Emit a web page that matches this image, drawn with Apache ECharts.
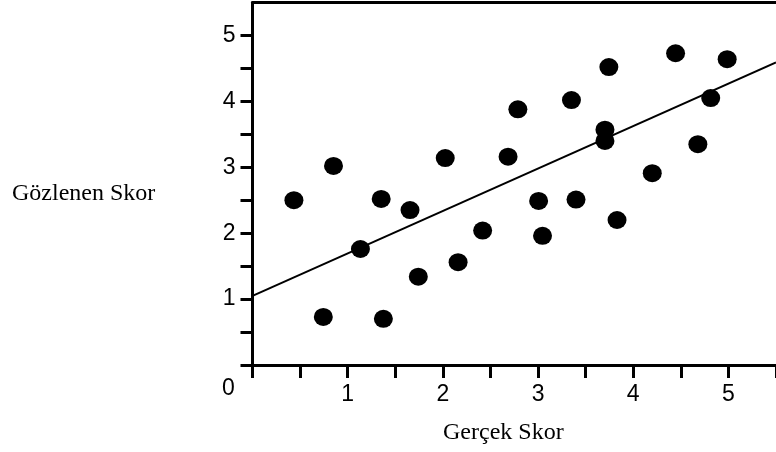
<!DOCTYPE html>
<html>
<head>
<meta charset="utf-8">
<script src="https://cdn.jsdelivr.net/npm/echarts@6/dist/echarts.min.js"></script>
<style>
  html, body { margin: 0; padding: 0; background: #fff; }
  #chart { width: 776px; height: 452px; }
</style>
</head>
<body>
<div id="chart"></div>
<script>
// Observed vs. true scores
const gercekSkor = [0.435, 0.744, 0.851, 1.134, 1.352, 1.375, 1.655, 1.742, 2.025, 2.16, 2.418, 2.685, 2.788,
                    3.006, 3.047, 3.351, 3.399, 3.703, 3.703, 3.744, 3.830, 4.20, 4.445, 4.679, 4.814, 4.987];
const gozlenenSkor = [2.50, 0.73, 3.02, 1.76, 2.52, 0.70, 2.35, 1.34, 3.14, 1.56, 2.04, 3.16, 3.88,
                      2.49, 1.96, 4.02, 2.51, 3.57, 3.40, 4.52, 2.20, 2.91, 4.73, 3.35, 4.05, 4.64];

// Fitted line end points
const trendX = [0, 5.5];
const trendY = [1.05, 4.59];

// Axis ticks and labels
const xTicks = [0, 0.5, 1, 1.5, 2, 2.5, 3, 3.5, 4, 4.5, 5, 5.5];
const yTicks = [0, 0.5, 1, 1.5, 2, 2.5, 3, 3.5, 4, 4.5, 5];
const tickLabels = [1, 2, 3, 4, 5];
const originLabel = '0';
const xTitle = 'Gerçek Skor';
const yTitle = 'Gözlenen Skor';

const points = gercekSkor.map((x, i) => [x, gozlenenSkor[i]]);
const trend = trendX.map((x, i) => [x, trendY[i]]);

const sans = 'Liberation Sans';
const serif = 'Liberation Serif';

const chart = echarts.init(document.getElementById('chart'), null, { renderer: 'canvas' });
chart.setOption({
  backgroundColor: '#ffffff',
  animation: false,
  grid: { left: 252.5, top: 2.5, width: 531, height: 362.5, containLabel: false },
  xAxis: [{
    type: 'value', min: 0, max: 5.5,
    axisLine: { show: true, onZero: false, lineStyle: { color: '#000', width: 3 } },
    axisTick: { show: true, customValues: xTicks, length: 13, lineStyle: { color: '#000', width: 3 } },
    axisLabel: { show: true, customValues: tickLabels, margin: 18, color: '#000', fontFamily: sans, fontSize: 23 },
    splitLine: { show: false }
  }, {
    type: 'value', min: 0, max: 5.5, position: 'top',
    axisLine: { show: true, onZero: false, lineStyle: { color: '#000', width: 3 } },
    axisTick: { show: false }, axisLabel: { show: false }, splitLine: { show: false }
  }],
  yAxis: {
    type: 'value', min: 0, max: 5.5,
    axisLine: { show: true, onZero: false, lineStyle: { color: '#000', width: 3 } },
    axisTick: { show: true, customValues: yTicks, length: 12, lineStyle: { color: '#000', width: 3 } },
    axisLabel: { show: true, customValues: tickLabels, margin: 17, color: '#000', fontFamily: sans, fontSize: 23 },
    splitLine: { show: false }
  },
  series: [{
    type: 'line',
    data: trend,
    symbol: 'none',
    lineStyle: { color: '#000', width: 2 },
    silent: true,
    z: 2
  }, {
    type: 'scatter',
    data: points,
    symbol: 'circle',
    symbolSize: [19, 18],
    itemStyle: { color: '#000', opacity: 1 },
    z: 3
  }],
  graphic: [{
    type: 'text', x: 228.3, y: 388.5,
    style: { text: originLabel, fill: '#000', font: '23px ' + sans, align: 'center', verticalAlign: 'middle' }
  }, {
    type: 'text', x: 12, y: 194,
    style: { text: yTitle, fill: '#000', font: '24px ' + serif, align: 'left', verticalAlign: 'middle' }
  }, {
    type: 'text', x: 443, y: 433,
    style: { text: xTitle, fill: '#000', font: '24px ' + serif, align: 'left', verticalAlign: 'middle' }
  }]
});
</script>
</body>
</html>
